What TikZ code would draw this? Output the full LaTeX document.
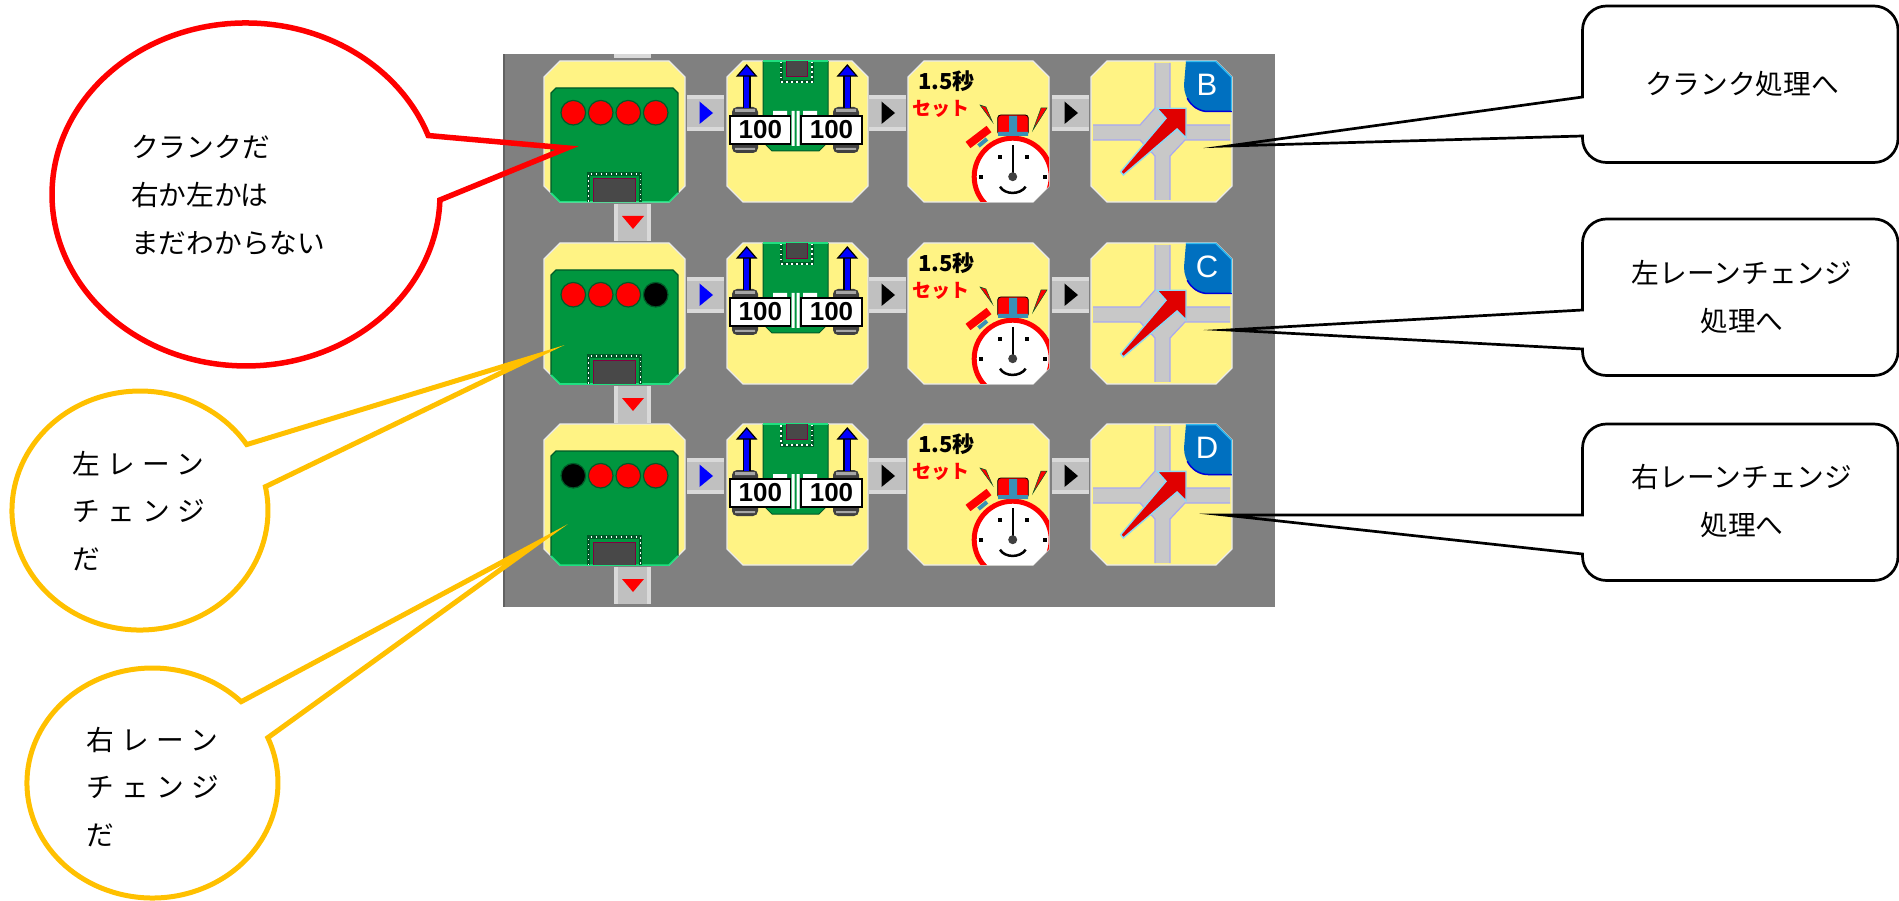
\documentclass[tikz,border=0pt]{standalone}
\usepackage{fontspec}
\setmainfont{Noto Sans CJK JP}
\newfontfamily\lanefont[LetterSpace=27]{Noto Sans CJK JP}
\newfontfamily\countfont{Liberation Sans}
\newfontfamily\badgefont{Liberation Sans}
\usepackage{tikz}
\definecolor{panelgray}{HTML}{808080}
\definecolor{linkgray}{HTML}{C0C0C0}
\definecolor{tileyellow}{HTML}{FFF384}
\definecolor{boardgreen}{HTML}{00963F}
\definecolor{boarddark}{HTML}{005A28}
\definecolor{boardlight}{HTML}{20E080}
\definecolor{chipgray}{HTML}{484848}
\definecolor{chipedge}{HTML}{800040}
\definecolor{roadgray}{HTML}{C8C8C8}
\definecolor{roadedge}{HTML}{A8A8F0}
\definecolor{badgeblue}{HTML}{0070C0}
\definecolor{calloutorange}{HTML}{FFC000}
\newcommand{\tileoutline}{(16,0) -- (125,0) -- (141,16) -- (141,125) -- (125,141) -- (16,141) -- (0,125) -- (0,16) -- cycle}

\begin{document}
\begin{tikzpicture}[x=1pt, y=1pt, yscale=-1,
  tile/.style={fill=tileyellow, draw=white!92!black, line width=1.2pt},
  linkface/.style={fill=linkgray},
  linkedge/.style={fill=white!85!black},
  pad/.style={draw=white, line width=1.5pt, dash pattern=on 1.5pt off 3.5pt},
  chip/.style={fill=chipgray, draw=chipedge, line width=1pt},
  countbox/.style={draw, fill=white, line width=1.5pt, inner sep=0pt, minimum width=60.7pt, minimum height=28pt, font=\countfont\bfseries\fontsize{26}{26}\selectfont},
  callred/.style={draw=red, line width=5.5pt, line join=miter, miter limit=30},
  callorange/.style={draw=calloutorange, line width=5pt, line join=miter, miter limit=30},
  callblack/.style={draw=black, line width=2.7pt, line join=miter, miter limit=30},
  saytext/.style={anchor=west, align=left, inner sep=0pt, font=\fontsize{27.7}{48}\selectfont},
  lanetext/.style={anchor=west, align=left, inner sep=0pt, font=\lanefont\fontsize{27.7}{47.5}\selectfont},
  gotext/.style={align=center, inner sep=0pt, font=\fontsize{27.7}{48}\selectfont}]
\useasboundingbox (0,0) rectangle (1899,901);
\fill[panelgray] (503,54) rectangle (1275,607);
\fill[black!62] (503,54) rectangle (505,607);
\fill[linkedge] (614,54) rectangle (651,58);
\foreach \r/\y/\ledA/\ledD/\letter in {1/61/red/red/B, 2/243/red/black/C, 3/424/black/red/D} {
  % links between tiles
  \foreach \x/\tipcolor in {687/blue, 869/black, 1052/black} {
    \fill[linkface] (\x,\y+34) rectangle (\x+37,\y+70);
    \fill[linkedge] (\x,\y+34) rectangle (\x+37,\y+38);
    \fill[linkedge] (\x,\y+66) rectangle (\x+37,\y+70);
    \fill[\tipcolor] (\x+12.5,\y+40.5) -- (\x+26,\y+52) -- (\x+12.5,\y+63) -- cycle;
  }
  \fill[linkface] (614,\y+143) rectangle (651,\y+180);
  \fill[linkedge] (614,\y+143) rectangle (618,\y+180);
  \fill[linkedge] (647,\y+143) rectangle (651,\y+180);
  \fill[red] (622,\y+155) -- (644,\y+155) -- (633,\y+168) -- cycle;
  % sensor tile
  \begin{scope}[shift={(544,\y)}]
    \path[tile] \tileoutline;
    \fill[boardgreen] (12,27) -- (129,27) -- (134,32) -- (134,132) -- (125,141) -- (16,141) -- (7,132) -- (7,32) -- cycle;
    \draw[boarddark, line width=1.2pt] (7,132) -- (7,32) -- (12,27) -- (129,27) -- (134,32) -- (134,132);
    \draw[boardlight, line width=1.5pt] (7,132) -- (16,141) -- (125,141) -- (134,132);
    \foreach \px/\led in {29.3/\ledA, 56.7/red, 84.3/red, 111.7/\ledD}
      \fill[\led, draw=boarddark, line width=1.2pt] (\px,51.7) circle (12.3);
    \draw[boarddark, line width=3.5pt] (44.5,141) -- (44.5,113) -- (96.5,113) -- (96.5,141);
    \draw[pad] (44.5,141) -- (44.5,113) -- (96.5,113) -- (96.5,141);
    \path[chip] (49,141) -- (49,118) -- (91,118) -- (91,141);
    \fill[chipgray] (49.5,118.5) rectangle (90.5,141);
  \end{scope}
  % motor tile
  \begin{scope}[shift={(727,\y)}]
    \path[tile] \tileoutline;
    \fill[boardgreen, draw=boarddark, line width=1pt] (36,0) -- (36,81) -- (45,90) -- (92,90) -- (101,81) -- (101,0);
    \draw[boardlight, line width=1.5pt] (36,0) -- (101,0);
    \draw[boarddark, line width=3pt] (54,1) -- (54,21) -- (85,21) -- (85,1);
    \draw[pad] (54,1) -- (54,21) -- (85,21) -- (85,1);
    \path[chip] (59,0) -- (59,15.7) -- (80,15.7) -- (80,0);
    \fill[chipgray] (59.5,0) rectangle (79.5,15);
    \fill[white] (46,50) rectangle (60,56) (76,50) rectangle (90,56);
    \fill[white] (64.5,50) rectangle (67.5,85) (69.5,50) rectangle (72.5,85);
    \foreach \px/\wx in {19.7/5, 120.3/106} {
      \fill[black!75, rounded corners=5pt] (\wx,46) rectangle (\wx+26,92);
      \fill[black!35] (\wx+3,48) rectangle (\wx+23,51) (\wx+3,87) rectangle (\wx+23,89);
      \draw[black, line width=8pt] (\px,14) -- (\px,47);
      \draw[blue, line width=5pt] (\px,12) -- (\px,47);
      \fill[blue, draw=black, line width=1.2pt] (\px,4) -- (\px+9.5,15) -- (\px-9.5,15) -- cycle;
    }
    \node[countbox] (countL\r) at (33.3,69) {100};
    \node[countbox] (countR\r) at (104.5,69) {100};
  \end{scope}
  % timer tile
  \begin{scope}[shift={(908,\y)}]
    \path[tile] \tileoutline;
    \node[inner sep=0pt, font=\bfseries\fontsize{22}{22}\selectfont] (secs\r) at (38.5,20) {1.5秒};
    \node[inner sep=0pt, text=red, font=\bfseries\fontsize{19}{19}\selectfont] (setword\r) at (32.5,48) {セット};
    \begin{scope}
      \clip \tileoutline;
      \draw[red, fill=white, line width=5pt] (104.7,115.7) circle (38.5);
    \end{scope}
    \draw[red, line width=8pt] (60,84) -- (81,68);
    \draw[cyan!70!black, line width=4pt] (70.5,85) -- (79,78);
    \fill[red, draw=black, line width=.8pt, rounded corners=3pt] (89.7,54) rectangle (120.3,74);
    \fill[cyan!70!black] (101,55) rectangle (109,73) (90,71) rectangle (120,75);
    \fill[red, draw=boarddark, line width=.5pt] (72,44) -- (78,46) -- (84.5,61) -- cycle;
    \fill[red, draw=boarddark, line width=.5pt] (133,47) -- (139,47) -- (125,69) -- cycle;
    \foreach \px/\py in {92/95.7, 118.7/95.7, 73/115.7, 137/115.7}
      \fill[black] (\px-2,\py-2) rectangle (\px+2,\py+2);
    \draw[black, line width=2pt] (104.7,84) -- (104.7,115.7);
    \fill[black!75] (104.7,115.7) circle (4.5);
    \draw[black, line width=2.5pt] (92,125.7) .. controls (97,134) and (112,134) .. (117.7,125.7);
  \end{scope}
  % branch tile
  \begin{scope}[shift={(1091,\y)}]
    \path[tile] \tileoutline;
    \fill[roadgray] (64,2) rectangle (79,139) (2,64) rectangle (139,79);
    \fill[roadgray] (64,47) -- (79,47) -- (94,64) -- (94,79) -- (79,95) -- (64,95) -- (49,79) -- (49,64) -- cycle;
    \draw[roadedge, line width=1.2pt] (64,2) -- (64,47) -- (49,64) -- (2,64) (79,2) -- (79,64) -- (139,64) (2,79) -- (49,79) -- (64,95) -- (64,139) (79,139) -- (79,95) -- (94,79) -- (139,79);
    \fill[red!88!black, draw=cyan!45, line width=1.4pt] (95,47.3) -- (66,47.3) -- (75,57.3) -- (29.7,110.7) -- (32.3,114) -- (86,68) -- (95,77) -- cycle;
    \begin{scope}
      \clip \tileoutline;
      \fill[badgeblue] (95,0) -- (141,0) -- (141,51) -- (117,51) arc[start angle=90, end angle=180, x radius=24, y radius=27] -- cycle;
      \draw[blue!85!black, line width=1.5pt] (141,50.5) -- (117,50.5) arc[start angle=90, end angle=150, x radius=24, y radius=26.5];
      \draw[cyan!80!white, line width=1.5pt] (95,.5) -- (125,.5) -- (140.5,16) -- (140.5,50);
    \end{scope}
    \node[inner sep=0pt, text=white, font=\badgefont\fontsize{31}{31}\selectfont] (badge\r) at (116,24) {\letter};
  \end{scope}
}
\coordinate (crankTip) at (567,148);
\coordinate (leftTip) at (534,357);
\coordinate (rightTip) at (536,544);
\path[callred] (crankTip) -- (439.9,200) arc[start angle=1.85, end angle=339.9, x radius=194, y radius=171.5] -- cycle;
\path[callorange] (leftTip) -- (265.4,486.7) arc[start angle=-11.5, end angle=326.5, x radius=128, y radius=119.5] -- cycle;
\path[callorange] (rightTip) -- (267.8,737.7) arc[start angle=-23.2, end angle=315, x radius=125.5, y radius=115] -- cycle;
\foreach \n/\t/\up/\lo/\tipx/\tipy in {Crank/6/97/136/1228/146, Left/219/310/349/1228/330, Right/424/515/554/1224/515} {
  \coordinate (go\n Tip) at (\tipx,\tipy);
  \path[callblack] (go\n Tip) -- (1582.5,\up) -- (1582.5,\t+24) arc[start angle=180, end angle=270, radius=24] -- (1874,\t) arc[start angle=270, end angle=360, radius=24] -- (1898,\t+132.5) arc[start angle=0, end angle=90, radius=24] -- (1606.5,\t+156.5) arc[start angle=90, end angle=180, radius=24] -- (1582.5,\lo) -- cycle;
}
\node[saytext] (crankSay) at (131,195) {クランクだ\\右か左かは\\まだわからない};
\node[lanetext] (leftSay) at (72,510.7) {左レーン\\チェンジ\\だ};
\node[lanetext] (rightSay) at (86,787) {右レーン\\チェンジ\\だ};
\node[gotext] (crankGo) at (1742,84) {クランク処理へ};
\node[gotext] (leftGo) at (1742,297.5) {左レーンチェンジ\\処理へ};
\node[gotext] (rightGo) at (1742,501) {右レーンチェンジ\\処理へ};
\end{tikzpicture}
\end{document}
